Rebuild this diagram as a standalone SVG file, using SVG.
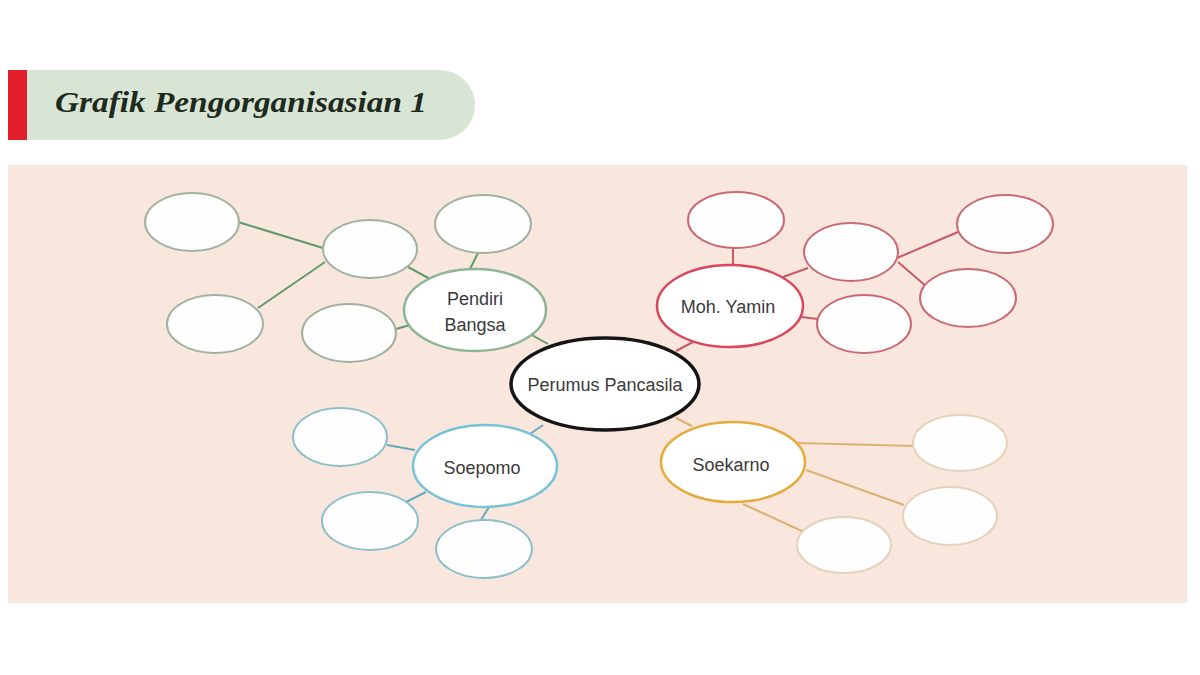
<svg xmlns="http://www.w3.org/2000/svg" width="1200" height="675" viewBox="0 0 1200 675">
<style>
.lbl{font-family:"Liberation Sans",Arial,sans-serif;font-size:18px;fill:#3a3a3a;text-anchor:middle}
.leaf{fill:#fefefe;stroke-width:2}
.g{stroke:#9db3a0}.gl{stroke:#5f9a6c}
.r{stroke:#c96a74}.rl{stroke:#c85a66}
.b{stroke:#8fbfcc}.bl{stroke:#68aabd}
.o{stroke:#e6d2b8}.ol{stroke:#dcb274}
.c line{stroke-width:2}
</style>
<rect x="0" y="0" width="1200" height="675" fill="#ffffff"/>
<g id="title">
<path d="M27,70 H440 A35,35 0 0 1 440,140 H27 Z" fill="#d8e5d4"/>
<rect x="8" y="70" width="19" height="70" fill="#e21f2a"/>
<text x="55" y="112" font-family="'Liberation Serif','Times New Roman',serif" font-style="italic" font-weight="bold" font-size="29" fill="#1e2a1e" textLength="372" lengthAdjust="spacingAndGlyphs">Grafik Pengorganisasian 1</text>
</g>
<rect id="panel" x="8" y="165" width="1179" height="438" fill="#f9e6dc"/>
<g id="connectors" class="c">
<line class="gl" x1="238" y1="222" x2="323" y2="248"/>
<line class="gl" x1="325" y1="262" x2="258" y2="308"/>
<line class="gl" x1="408" y1="267" x2="432" y2="280"/>
<line class="gl" x1="478" y1="253" x2="470" y2="269"/>
<line class="gl" x1="396" y1="329" x2="410" y2="325"/>
<line class="gl" x1="530" y1="334" x2="548" y2="344"/>
<line class="rl" x1="733" y1="248" x2="733" y2="266"/>
<line class="rl" x1="783" y1="277" x2="808" y2="268"/>
<line class="rl" x1="897" y1="258" x2="958" y2="232"/>
<line class="rl" x1="898" y1="262" x2="927" y2="287"/>
<line class="rl" x1="801" y1="317" x2="818" y2="319"/>
<line class="rl" x1="693" y1="342" x2="676" y2="351"/>
<line class="bl" x1="543" y1="425" x2="530" y2="434"/>
<line class="bl" x1="387" y1="445" x2="415" y2="450"/>
<line class="bl" x1="406" y1="502" x2="426" y2="492"/>
<line class="bl" x1="481" y1="520" x2="489" y2="507"/>
<line class="ol" x1="676" y1="418" x2="692" y2="426"/>
<line class="ol" x1="797" y1="443" x2="913" y2="446"/>
<line class="ol" x1="806" y1="470" x2="904" y2="505"/>
<line class="ol" x1="743" y1="504" x2="804" y2="532"/>
</g>
<g id="center">
<ellipse cx="605" cy="384" rx="94" ry="46" fill="#ffffff" stroke="#151515" stroke-width="3.5"/>
<text class="lbl" x="605" y="391">Perumus Pancasila</text>
</g>
<g id="pendiri">
<ellipse cx="475" cy="310" rx="71" ry="41" fill="#ffffff" stroke="#8db595" stroke-width="2.5"/>
<text class="lbl" x="475" y="305">Pendiri</text>
<text class="lbl" x="475" y="331">Bangsa</text>
</g>
<g id="pendiri-leaves">
<ellipse id="g1" class="leaf g" cx="192" cy="222" rx="47" ry="29"/>
<ellipse id="g2" class="leaf g" cx="370" cy="249" rx="47" ry="29"/>
<ellipse id="g3" class="leaf g" cx="483" cy="224" rx="48" ry="29"/>
<ellipse id="g4" class="leaf g" cx="215" cy="324" rx="48" ry="29"/>
<ellipse id="g5" class="leaf g" cx="349" cy="333" rx="47" ry="29"/>
</g>
<g id="yamin">
<ellipse cx="730" cy="306" rx="73" ry="41" fill="#ffffff" stroke="#d8475c" stroke-width="2.5"/>
<text class="lbl" x="728" y="313">Moh. Yamin</text>
</g>
<g id="yamin-leaves">
<ellipse id="r1" class="leaf r" cx="736" cy="220" rx="48" ry="28"/>
<ellipse id="r2" class="leaf r" cx="851" cy="252" rx="47" ry="29"/>
<ellipse id="r3" class="leaf r" cx="1005" cy="224" rx="48" ry="29"/>
<ellipse id="r4" class="leaf r" cx="968" cy="298" rx="48" ry="29"/>
<ellipse id="r5" class="leaf r" cx="864" cy="324" rx="47" ry="29"/>
</g>
<g id="soepomo">
<ellipse cx="485" cy="466" rx="72" ry="41" fill="#ffffff" stroke="#78c2d6" stroke-width="2.5"/>
<text class="lbl" x="482" y="474">Soepomo</text>
</g>
<g id="soepomo-leaves">
<ellipse id="b1" class="leaf b" cx="340" cy="437" rx="47" ry="29"/>
<ellipse id="b2" class="leaf b" cx="370" cy="521" rx="48" ry="29"/>
<ellipse id="b3" class="leaf b" cx="484" cy="549" rx="48" ry="29"/>
</g>
<g id="soekarno">
<ellipse cx="733" cy="462" rx="72" ry="40" fill="#ffffff" stroke="#e4ac3c" stroke-width="2.5"/>
<text class="lbl" x="731" y="471">Soekarno</text>
</g>
<g id="soekarno-leaves">
<ellipse id="o1" class="leaf o" cx="960" cy="443" rx="47" ry="28"/>
<ellipse id="o2" class="leaf o" cx="950" cy="516" rx="47" ry="29"/>
<ellipse id="o3" class="leaf o" cx="844" cy="545" rx="47" ry="28"/>
</g>
</svg>
